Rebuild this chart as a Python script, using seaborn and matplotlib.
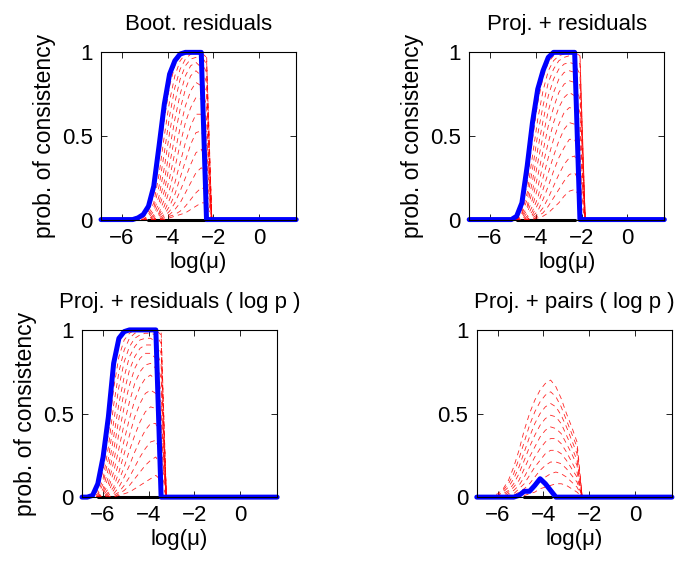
import numpy as np
import pandas as pd
import matplotlib
matplotlib.use("Agg")
import matplotlib.pyplot as plt
import seaborn as sns

# Estilo parecido com o MATLAB
sns.set_theme(style="white")
plt.rcParams['font.family'] = ['Liberation Sans', 'DejaVu Sans']
plt.rcParams['axes.edgecolor'] = 'black'
plt.rcParams['axes.linewidth'] = 0.8
plt.rcParams['text.color'] = 'black'
plt.rcParams['axes.labelcolor'] = 'black'
plt.rcParams['xtick.color'] = 'black'
plt.rcParams['ytick.color'] = 'black'
plt.rcParams['xtick.direction'] = 'in'
plt.rcParams['ytick.direction'] = 'in'
plt.rcParams['xtick.top'] = True
plt.rcParams['ytick.right'] = True
plt.rcParams['xtick.bottom'] = True
plt.rcParams['ytick.left'] = True

# grade de mu: 10^-3 ... 10^0.7, eixo em log natural
mu_exp = np.arange(-30, 8) / 10
log_mu = np.log(10.0 ** mu_exp)

x_ticks = [-6, -4, -2, 0]
y_ticks = [0, 0.5, 1]
y_tick_labels = ["0", "0.5", "1"]

titles = ["Boot. residuals", "Proj. + residuals",
          "Proj. + residuals ( log p )", "Proj. + pairs ( log p )"]
y_label = "prob. of consistency"
x_label = "log(\u03bc)"

# --- painel 1: Boot. residuals (janela começa em 10^-2.4) ---
tl_start = -2.4
tl_black = (-2.1, -1.0)
tl_blue = [0, 0.01, 0.03, 0.08, 0.20, 0.44, 0.69, 0.87, 0.95, 0.99, 1, 1, 1, 1, 0, 0]
tl_red = [
    [0, 0, 0.01, 0.05, 0.15, 0.36, 0.60, 0.80, 0.92, 0.98, 1, 1, 1, 1, 1, 0],
    [0, 0, 0, 0.03, 0.10, 0.27, 0.50, 0.71, 0.86, 0.95, 0.99, 1, 1, 1, 0.97, 0],
    [0, 0, 0, 0.02, 0.07, 0.20, 0.40, 0.62, 0.79, 0.90, 0.96, 0.99, 1, 0.98, 0.93, 0],
    [0, 0, 0, 0.01, 0.05, 0.14, 0.31, 0.52, 0.70, 0.84, 0.92, 0.96, 0.97, 0.95, 0.88, 0],
    [0, 0, 0, 0, 0.03, 0.10, 0.23, 0.42, 0.60, 0.75, 0.86, 0.92, 0.94, 0.91, 0.82, 0],
    [0, 0, 0, 0, 0.02, 0.07, 0.17, 0.33, 0.50, 0.66, 0.78, 0.86, 0.89, 0.86, 0.75, 0],
    [0, 0, 0, 0, 0.01, 0.04, 0.12, 0.25, 0.40, 0.55, 0.68, 0.77, 0.82, 0.80, 0.68, 0],
    [0, 0, 0, 0, 0, 0.03, 0.08, 0.18, 0.31, 0.45, 0.58, 0.67, 0.73, 0.72, 0.60, 0],
    [0, 0, 0, 0, 0, 0.02, 0.05, 0.12, 0.22, 0.34, 0.46, 0.56, 0.63, 0.63, 0.52, 0],
    [0, 0, 0, 0, 0, 0.01, 0.03, 0.08, 0.15, 0.25, 0.35, 0.45, 0.52, 0.53, 0.44, 0],
    [0, 0, 0, 0, 0, 0, 0.02, 0.05, 0.10, 0.17, 0.25, 0.33, 0.40, 0.42, 0.36, 0],
    [0, 0, 0, 0, 0, 0, 0.01, 0.03, 0.06, 0.10, 0.16, 0.22, 0.28, 0.31, 0.28, 0],
    [0, 0, 0, 0, 0, 0, 0, 0.02, 0.03, 0.05, 0.08, 0.12, 0.16, 0.19, 0.18, 0],
    [0, 0, 0, 0, 0, 0, 0, 0.01, 0.02, 0.03, 0.04, 0.06, 0.08, 0.10, 0.10, 0],
]

# --- painel 2: Proj. + residuals (janela começa em 10^-2.3) ---
tr_start = -2.3
tr_black = (-2.1, -1.0)
tr_blue = [0, 0, 0.02, 0.10, 0.32, 0.58, 0.78, 0.89, 0.97, 1, 1, 1, 1, 1, 0, 0]
tr_red = [
    [0, 0, 0.01, 0.06, 0.22, 0.48, 0.70, 0.85, 0.94, 0.98, 1, 1, 1, 1, 1, 0],
    [0, 0, 0, 0.04, 0.16, 0.38, 0.60, 0.77, 0.89, 0.95, 0.98, 0.99, 1, 1, 0.98, 0],
    [0, 0, 0, 0.03, 0.12, 0.30, 0.51, 0.68, 0.82, 0.90, 0.95, 0.97, 0.98, 0.97, 0.93, 0],
    [0, 0, 0, 0.02, 0.08, 0.23, 0.42, 0.59, 0.74, 0.84, 0.90, 0.93, 0.94, 0.93, 0.87, 0],
    [0, 0, 0, 0.01, 0.06, 0.17, 0.34, 0.50, 0.65, 0.76, 0.84, 0.88, 0.89, 0.88, 0.80, 0],
    [0, 0, 0, 0, 0.04, 0.12, 0.26, 0.41, 0.56, 0.67, 0.76, 0.81, 0.83, 0.82, 0.72, 0],
    [0, 0, 0, 0, 0.02, 0.08, 0.19, 0.33, 0.46, 0.58, 0.67, 0.73, 0.76, 0.74, 0.64, 0],
    [0, 0, 0, 0, 0.01, 0.05, 0.13, 0.25, 0.37, 0.48, 0.57, 0.64, 0.67, 0.66, 0.55, 0],
    [0, 0, 0, 0, 0, 0.03, 0.09, 0.18, 0.28, 0.38, 0.47, 0.54, 0.58, 0.57, 0.46, 0],
    [0, 0, 0, 0, 0, 0.02, 0.05, 0.12, 0.20, 0.29, 0.37, 0.43, 0.48, 0.48, 0.38, 0],
    [0, 0, 0, 0, 0, 0.01, 0.03, 0.07, 0.13, 0.20, 0.27, 0.33, 0.37, 0.38, 0.30, 0],
    [0, 0, 0, 0, 0, 0, 0.02, 0.04, 0.08, 0.13, 0.18, 0.23, 0.27, 0.28, 0.22, 0],
    [0, 0, 0, 0, 0, 0, 0.01, 0.02, 0.04, 0.07, 0.10, 0.14, 0.17, 0.18, 0.14, 0],
]

# --- painel 3: Proj. + residuals (log p) (janela começa em 10^-2.9) ---
bl_start = -2.9
bl_black = (-2.7, -1.5)
bl_blue = [0, 0.01, 0.08, 0.24, 0.48, 0.80, 0.95, 0.99, 1, 1, 1, 1, 1, 1, 0, 0]
bl_red = [
    [0, 0, 0.04, 0.16, 0.38, 0.65, 0.84, 0.94, 0.98, 1, 1, 1, 1, 1, 1, 0],
    [0, 0, 0.02, 0.11, 0.30, 0.55, 0.75, 0.88, 0.95, 0.98, 0.99, 1, 1, 1, 0.97, 0],
    [0, 0, 0.01, 0.08, 0.23, 0.45, 0.66, 0.81, 0.90, 0.95, 0.97, 0.98, 0.98, 0.97, 0.92, 0],
    [0, 0, 0, 0.05, 0.17, 0.36, 0.56, 0.72, 0.84, 0.90, 0.94, 0.95, 0.95, 0.93, 0.86, 0],
    [0, 0, 0, 0.03, 0.12, 0.28, 0.47, 0.63, 0.76, 0.84, 0.89, 0.91, 0.91, 0.89, 0.79, 0],
    [0, 0, 0, 0.02, 0.08, 0.21, 0.38, 0.54, 0.67, 0.77, 0.83, 0.86, 0.86, 0.83, 0.71, 0],
    [0, 0, 0, 0.01, 0.05, 0.15, 0.29, 0.44, 0.57, 0.68, 0.75, 0.79, 0.80, 0.77, 0.63, 0],
    [0, 0, 0, 0, 0.03, 0.10, 0.21, 0.34, 0.47, 0.58, 0.66, 0.71, 0.73, 0.70, 0.55, 0],
    [0, 0, 0, 0, 0.02, 0.06, 0.15, 0.26, 0.37, 0.48, 0.56, 0.62, 0.64, 0.62, 0.47, 0],
    [0, 0, 0, 0, 0.01, 0.04, 0.10, 0.18, 0.28, 0.37, 0.45, 0.51, 0.54, 0.53, 0.40, 0],
    [0, 0, 0, 0, 0, 0.02, 0.06, 0.12, 0.19, 0.27, 0.34, 0.40, 0.44, 0.44, 0.33, 0],
    [0, 0, 0, 0, 0, 0.01, 0.03, 0.07, 0.12, 0.18, 0.24, 0.29, 0.33, 0.34, 0.25, 0],
    [0, 0, 0, 0, 0, 0, 0.02, 0.04, 0.07, 0.11, 0.15, 0.19, 0.22, 0.24, 0.18, 0],
    [0, 0, 0, 0, 0, 0, 0.01, 0.02, 0.03, 0.05, 0.07, 0.09, 0.11, 0.13, 0.10, 0],
]

# --- painel 4: Proj. + pairs (log p) (janela começa em 10^-2.8) ---
br_start = -2.8
br_black = (-2.1, -1.6)
br_blue = [0, 0, 0, 0, 0, 0, 0.01, 0.035, 0.035, 0.07, 0.11, 0.08, 0.04, 0, 0, 0, 0, 0, 0]
br_red = [
    [0, 0.01, 0.02, 0.05, 0.10, 0.18, 0.28, 0.40, 0.50, 0.58, 0.64, 0.68, 0.70, 0.66, 0.59, 0.50, 0.42, 0.33, 0],
    [0, 0, 0.01, 0.04, 0.08, 0.14, 0.23, 0.33, 0.43, 0.51, 0.57, 0.61, 0.63, 0.60, 0.54, 0.46, 0.38, 0.30, 0],
    [0, 0, 0.01, 0.03, 0.06, 0.11, 0.18, 0.27, 0.36, 0.44, 0.50, 0.54, 0.56, 0.54, 0.49, 0.42, 0.34, 0.26, 0],
    [0, 0, 0, 0.02, 0.04, 0.08, 0.14, 0.22, 0.30, 0.37, 0.43, 0.47, 0.49, 0.48, 0.44, 0.37, 0.30, 0.22, 0],
    [0, 0, 0, 0.01, 0.03, 0.06, 0.10, 0.17, 0.24, 0.30, 0.36, 0.40, 0.42, 0.41, 0.38, 0.32, 0.26, 0.19, 0],
    [0, 0, 0, 0, 0.02, 0.04, 0.07, 0.12, 0.18, 0.24, 0.29, 0.33, 0.35, 0.35, 0.32, 0.27, 0.21, 0.15, 0],
    [0, 0, 0, 0, 0.01, 0.02, 0.05, 0.08, 0.13, 0.18, 0.22, 0.26, 0.28, 0.28, 0.26, 0.22, 0.17, 0.12, 0],
    [0, 0, 0, 0, 0, 0.01, 0.03, 0.05, 0.08, 0.12, 0.16, 0.19, 0.21, 0.21, 0.20, 0.17, 0.13, 0.09, 0],
    [0, 0, 0, 0, 0, 0, 0.01, 0.03, 0.05, 0.07, 0.10, 0.12, 0.14, 0.15, 0.14, 0.12, 0.09, 0.06, 0],
    [0, 0, 0, 0, 0, 0, 0, 0.01, 0.02, 0.03, 0.05, 0.06, 0.07, 0.08, 0.08, 0.07, 0.05, 0.03, 0],
]


def idx(e):
    return int(round((e - mu_exp[0]) * 10))


def desenhar_painel(ax, start, blue, red, black, title, ylabel):
    i0 = idx(start)
    x_win = log_mu[i0:i0 + len(blue)]

    linhas = [(k, x, y) for k, curva in enumerate(red) for x, y in zip(x_win, curva)]
    df_red = pd.DataFrame(linhas, columns=["curva", "log_mu", "prob"])

    j0, j1 = idx(black[0]), idx(black[1])
    df_black = pd.DataFrame({"log_mu": log_mu[j0:j1 + 1], "prob": 0.0})

    blue_full = np.zeros(len(log_mu))
    blue_full[i0:i0 + len(blue)] = blue
    df_blue = pd.DataFrame({"log_mu": log_mu, "prob": blue_full})

    sns.lineplot(data=df_black, x="log_mu", y="prob", color="black", lw=2.2,
                 ax=ax, clip_on=False, errorbar=None)
    sns.lineplot(data=df_red, x="log_mu", y="prob", units="curva", estimator=None,
                 color="#ff0000", lw=0.6, ls=(0, (6, 5)), alpha=0.85, ax=ax)
    sns.lineplot(data=df_blue, x="log_mu", y="prob", color="#0000ff", lw=3.6,
                 ax=ax, clip_on=False, errorbar=None)

    ax.set_xlim(log_mu[0], log_mu[-1])
    ax.set_ylim(0, 1)
    ax.set_xticks(x_ticks)
    ax.set_yticks(y_ticks, labels=y_tick_labels)
    ax.tick_params(labelsize=16, length=4, width=0.6, pad=6, colors="black")
    ax.set_title(title, fontsize=16, pad=16, color="black")
    ax.set_xlabel(x_label, fontsize=16, labelpad=2)
    ax.set_ylabel(ylabel, fontsize=16.5)
    for s in ax.spines.values():
        s.set_visible(True)
        s.set_color("black")


fig = plt.figure(figsize=(6.92, 5.63), dpi=100)
ax_tl = fig.add_axes([0.146, 0.610, 0.282, 0.297])
ax_tr = fig.add_axes([0.678, 0.610, 0.282, 0.297])
ax_bl = fig.add_axes([0.1185, 0.117, 0.282, 0.297])
ax_br = fig.add_axes([0.689, 0.117, 0.282, 0.297])

desenhar_painel(ax_tl, tl_start, tl_blue, tl_red, tl_black, titles[0], y_label)
desenhar_painel(ax_tr, tr_start, tr_blue, tr_red, tr_black, titles[1], y_label)
desenhar_painel(ax_bl, bl_start, bl_blue, bl_red, bl_black, titles[2], y_label)
desenhar_painel(ax_br, br_start, br_blue, br_red, br_black, titles[3], "")

fig.savefig("out.png", dpi=100, facecolor="white")
